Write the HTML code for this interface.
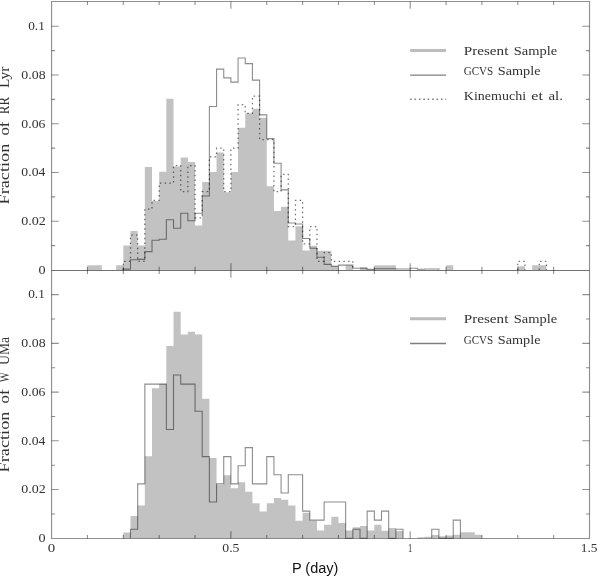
<!DOCTYPE html>
<html><head><meta charset="utf-8"><title>Period distribution</title>
<style>
html,body{margin:0;padding:0;background:#fff;}
body{width:600px;height:577px;position:relative;overflow:hidden;}
svg{position:absolute;left:0;top:0;}
</style></head><body>
<svg width="600" height="577" viewBox="0 0 600 577">
<path fill="#c2c2c2" d="M87.46 270.00L87.46 265.20L94.63 265.20L94.63 265.20L101.80 265.20L101.80 270.00 M116.15 270.00L116.15 265.20L123.32 265.20L123.32 245.40L130.49 245.40L130.49 231.10L137.66 231.10L137.66 245.40L144.84 245.40L144.84 167.10L152.01 167.10L152.01 201.00L159.18 201.00L159.18 171.80L166.35 171.80L166.35 98.70L173.52 98.70L173.52 166.50L180.70 166.50L180.70 157.40L187.87 157.40L187.87 162.00L195.04 162.00L195.04 225.60L202.21 225.60L202.21 182.00L209.38 182.00L209.38 172.00L216.56 172.00L216.56 152.50L223.73 152.50L223.73 192.20L230.90 192.20L230.90 172.00L238.07 172.00L238.07 127.80L245.24 127.80L245.24 113.30L252.42 113.30L252.42 108.70L259.59 108.70L259.59 117.80L266.76 117.80L266.76 186.30L273.93 186.30L273.93 211.00L281.10 211.00L281.10 206.70L288.28 206.70L288.28 240.50L295.45 240.50L295.45 226.20L302.62 226.20L302.62 250.50L309.79 250.50L309.79 245.70L316.96 245.70L316.96 250.80L324.14 250.80L324.14 250.80L331.31 250.80L331.31 265.70L338.48 265.70L338.48 270.00 M345.65 270.00L345.65 265.50L352.82 265.50L352.82 270.00 M360.00 270.00L360.00 267.20L367.17 267.20L367.17 270.00 M374.34 270.00L374.34 265.30L381.51 265.30L381.51 265.30L388.68 265.30L388.68 265.30L395.86 265.30L395.86 270.00 M446.06 270.00L446.06 265.30L453.23 265.30L453.23 270.00 M517.78 270.00L517.78 266.20L524.95 266.20L524.95 270.00 M532.12 270.00L532.12 265.30L539.30 265.30L539.30 265.30L546.47 265.30L546.47 270.00 M123.32 538.30L123.32 532.50L130.49 532.50L130.49 515.90L137.66 515.90L137.66 505.50L144.84 505.50L144.84 456.30L152.01 456.30L152.01 388.30L159.18 388.30L159.18 383.70L166.35 383.70L166.35 345.90L173.52 345.90L173.52 311.70L180.70 311.70L180.70 334.40L187.87 334.40L187.87 331.80L195.04 331.80L195.04 334.40L202.21 334.40L202.21 398.80L209.38 398.80L209.38 458.10L216.56 458.10L216.56 485.00L223.73 485.00L223.73 475.20L230.90 475.20L230.90 488.20L238.07 488.20L238.07 482.30L245.24 482.30L245.24 491.80L252.42 491.80L252.42 503.30L259.59 503.30L259.59 511.40L266.76 511.40L266.76 503.30L273.93 503.30L273.93 497.90L281.10 497.90L281.10 499.80L288.28 499.80L288.28 505.40L295.45 505.40L295.45 520.80L302.62 520.80L302.62 512.70L309.79 512.70L309.79 520.80L316.96 520.80L316.96 530.40L324.14 530.40L324.14 524.80L331.31 524.80L331.31 516.70L338.48 516.70L338.48 522.90L345.65 522.90L345.65 530.40L352.82 530.40L352.82 527.30L360.00 527.30L360.00 526.10L367.17 526.10L367.17 530.40L374.34 530.40L374.34 524.80L381.51 524.80L381.51 530.80L388.68 530.80L388.68 527.90L395.86 527.90L395.86 531.05L403.03 531.05L403.03 538.30 M417.37 538.30L417.37 537.30L424.54 537.30L424.54 536.80L431.72 536.80L431.72 534.90L438.89 534.90L438.89 536.30L446.06 536.30L446.06 535.60L453.23 535.60L453.23 534.70L460.40 534.70L460.40 532.30L467.58 532.30L467.58 532.30L474.75 532.30L474.75 534.70L481.92 534.70L481.92 538.30"/>
<path d="M123.32 270.00L123.32 261.30L130.49 261.30L130.49 235.20L137.66 235.20L137.66 261.30L144.84 261.30L144.84 209.10L152.01 209.10L152.01 200.40L159.18 200.40L159.18 183.00L166.35 183.00L166.35 183.00L173.52 183.00L173.52 165.60L180.70 165.60L180.70 191.70L187.87 191.70L187.87 165.60L195.04 165.60L195.04 217.80L202.21 217.80L202.21 191.70L209.38 191.70L209.38 156.90L216.56 156.90L216.56 148.20L223.73 148.20L223.73 191.70L230.90 191.70L230.90 148.20L238.07 148.20L238.07 104.70L245.24 104.70L245.24 113.40L252.42 113.40L252.42 96.00L259.59 96.00L259.59 139.50L266.76 139.50L266.76 139.50L273.93 139.50L273.93 191.70L281.10 191.70L281.10 174.30L288.28 174.30L288.28 226.50L295.45 226.50L295.45 200.40L302.62 200.40L302.62 243.90L309.79 243.90L309.79 226.50L316.96 226.50L316.96 261.30L324.14 261.30L324.14 252.60L331.31 252.60L331.31 261.30L338.48 261.30L338.48 261.30L345.65 261.30L345.65 261.30L352.82 261.30L352.82 270.00 M517.78 270.00L517.78 261.30L524.95 261.30L524.95 270.00 M539.30 270.00L539.30 261.30L546.47 261.30L546.47 270.00" fill="none" stroke="#000" stroke-opacity="0.55" stroke-width="1.25" stroke-dasharray="1.5 3.25"/>
<path d="M123.32 270.00L123.32 269.10L130.49 269.10L130.49 259.80L137.66 259.80L137.66 259.40L144.84 259.40L144.84 251.60L152.01 251.60L152.01 240.30L159.18 240.30L159.18 239.20L166.35 239.20L166.35 219.70L173.52 219.70L173.52 228.20L180.70 228.20L180.70 213.20L187.87 213.20L187.87 220.80L195.04 220.80L195.04 213.20L202.21 213.20L202.21 196.00L209.38 196.00L209.38 106.50L216.56 106.50L216.56 69.10L223.73 69.10L223.73 77.90L230.90 77.90L230.90 82.10L238.07 82.10L238.07 58.00L245.24 58.00L245.24 63.60L252.42 63.60L252.42 80.10L259.59 80.10L259.59 114.90L266.76 114.90L266.76 138.60L273.93 138.60L273.93 163.30L281.10 163.30L281.10 189.90L288.28 189.90L288.28 223.00L295.45 223.00L295.45 224.00L302.62 224.00L302.62 238.50L309.79 238.50L309.79 248.20L316.96 248.20L316.96 257.20L324.14 257.20L324.14 264.40L331.31 264.40L331.31 266.20L338.48 266.20L338.48 265.10L345.65 265.10L345.65 265.10L352.82 265.10L352.82 268.20L360.00 268.20L360.00 268.20L367.17 268.20L367.17 269.40L374.34 269.40L374.34 268.80L381.51 268.80L381.51 268.80L388.68 268.80L388.68 268.80L395.86 268.80L395.86 269.00L403.03 269.00L403.03 269.00L410.20 269.00L410.20 268.20L417.37 268.20L417.37 269.30L424.54 269.30L424.54 269.00L431.72 269.00L431.72 269.00L438.89 269.00L438.89 270.00 M130.49 538.30L130.49 529.23L137.66 529.23L137.66 483.88L144.84 483.88L144.84 384.11L152.01 384.11L152.01 384.11L159.18 384.11L159.18 384.11L166.35 384.11L166.35 429.46L173.52 429.46L173.52 375.04L180.70 375.04L180.70 384.11L187.87 384.11L187.87 384.11L195.04 384.11L195.04 411.32L202.21 411.32L202.21 456.67L209.38 456.67L209.38 502.02L216.56 502.02L216.56 483.88L223.73 483.88L223.73 456.67L230.90 456.67L230.90 483.88L238.07 483.88L238.07 465.74L245.24 465.74L245.24 447.60L252.42 447.60L252.42 483.88L259.59 483.88L259.59 483.88L266.76 483.88L266.76 456.67L273.93 456.67L273.93 474.81L281.10 474.81L281.10 492.95L288.28 492.95L288.28 474.81L295.45 474.81L295.45 474.81L302.62 474.81L302.62 511.09L309.79 511.09L309.79 520.16L316.96 520.16L316.96 520.16L324.14 520.16L324.14 502.02L331.31 502.02L331.31 502.02L338.48 502.02L338.48 502.02L345.65 502.02L345.65 538.30L352.82 538.30L352.82 529.23L360.00 529.23L360.00 538.30L367.17 538.30L367.17 511.09L374.34 511.09L374.34 520.16L381.51 520.16L381.51 511.09L388.68 511.09L388.68 538.30L395.86 538.30L395.86 529.23L403.03 529.23L403.03 538.30 M431.72 538.30L431.72 529.23L438.89 529.23L438.89 538.30L446.06 538.30L446.06 538.30L453.23 538.30L453.23 520.16L460.40 520.16L460.40 538.30" fill="none" stroke="#000" stroke-opacity="0.45" stroke-width="1.1"/>
<path stroke="#000" stroke-opacity="0.43" stroke-width="1.15" fill="none" d="M51.55 1.50H589.50V538.50H51.55Z"/>
<path stroke="#000" stroke-opacity="0.55" stroke-width="1.15" fill="none" d="M51.55 270.45H589.50"/>
<path stroke="#000" stroke-opacity="0.43" stroke-width="1.1" fill="none" d="M87.46 1.50V5.10M87.46 266.85V274.05M87.46 538.50V534.90M123.32 1.50V5.10M123.32 266.85V274.05M123.32 538.50V534.90M159.18 1.50V5.10M159.18 266.85V274.05M159.18 538.50V534.90M195.04 1.50V5.10M195.04 266.85V274.05M195.04 538.50V534.90M230.90 1.50V8.70M230.90 263.25V277.65M230.90 538.50V531.30M266.76 1.50V5.10M266.76 266.85V274.05M266.76 538.50V534.90M302.62 1.50V5.10M302.62 266.85V274.05M302.62 538.50V534.90M338.48 1.50V5.10M338.48 266.85V274.05M338.48 538.50V534.90M374.34 1.50V5.10M374.34 266.85V274.05M374.34 538.50V534.90M410.20 1.50V8.70M410.20 263.25V277.65M410.20 538.50V531.30M446.06 1.50V5.10M446.06 266.85V274.05M446.06 538.50V534.90M481.92 1.50V5.10M481.92 266.85V274.05M481.92 538.50V534.90M517.78 1.50V5.10M517.78 266.85V274.05M517.78 538.50V534.90M553.64 1.50V5.10M553.64 266.85V274.05M553.64 538.50V534.90M51.55 245.63H55.15M589.50 245.63H585.90M51.55 221.26H58.75M589.50 221.26H582.30M51.55 196.89H55.15M589.50 196.89H585.90M51.55 172.52H58.75M589.50 172.52H582.30M51.55 148.15H55.15M589.50 148.15H585.90M51.55 123.78H58.75M589.50 123.78H582.30M51.55 99.41H55.15M589.50 99.41H585.90M51.55 75.04H58.75M589.50 75.04H582.30M51.55 50.67H55.15M589.50 50.67H585.90M51.55 26.30H58.75M589.50 26.30H582.30M51.55 513.93H55.15M589.50 513.93H585.90M51.55 489.56H58.75M589.50 489.56H582.30M51.55 465.19H55.15M589.50 465.19H585.90M51.55 440.82H58.75M589.50 440.82H582.30M51.55 416.45H55.15M589.50 416.45H585.90M51.55 392.08H58.75M589.50 392.08H582.30M51.55 367.71H55.15M589.50 367.71H585.90M51.55 343.34H58.75M589.50 343.34H582.30M51.55 318.97H55.15M589.50 318.97H585.90M51.55 294.60H58.75M589.50 294.60H582.30"/>
<path d="M410.1 50.40H446.1" stroke="#bcbcbc" stroke-width="3"/><path d="M410.1 75.10H446.1" stroke="#000" stroke-opacity="0.5" stroke-width="1.4"/>
<path d="M410.1 99.3H446.1" stroke="#000" stroke-opacity="0.5" stroke-width="1.4" stroke-dasharray="1.6 2.8"/>
<path d="M410.1 318.80H446.1" stroke="#bcbcbc" stroke-width="3"/><path d="M410.1 343.50H446.1" stroke="#000" stroke-opacity="0.5" stroke-width="1.4"/>
</svg>
<svg width="600" height="577" viewBox="0 0 600 577" style="position:absolute;left:0;top:0;will-change:transform"><text x="38.56" y="273.80" font-size="11.60" textLength="7.08" lengthAdjust="spacingAndGlyphs" font-family='"Liberation Serif",serif' fill="#333">0</text>
<text x="21.37" y="225.06" font-size="11.60" textLength="24.51" lengthAdjust="spacingAndGlyphs" font-family='"Liberation Serif",serif' fill="#333">0.02</text>
<text x="21.38" y="176.32" font-size="11.60" textLength="23.93" lengthAdjust="spacingAndGlyphs" font-family='"Liberation Serif",serif' fill="#333">0.04</text>
<text x="21.37" y="127.58" font-size="11.60" textLength="24.14" lengthAdjust="spacingAndGlyphs" font-family='"Liberation Serif",serif' fill="#333">0.06</text>
<text x="21.37" y="78.84" font-size="11.60" textLength="24.26" lengthAdjust="spacingAndGlyphs" font-family='"Liberation Serif",serif' fill="#333">0.08</text>
<text x="28.19" y="30.10" font-size="11.60" textLength="16.60" lengthAdjust="spacingAndGlyphs" font-family='"Liberation Serif",serif' fill="#333">0.1</text>
<text x="38.56" y="542.10" font-size="11.60" textLength="7.08" lengthAdjust="spacingAndGlyphs" font-family='"Liberation Serif",serif' fill="#333">0</text>
<text x="21.37" y="493.36" font-size="11.60" textLength="24.51" lengthAdjust="spacingAndGlyphs" font-family='"Liberation Serif",serif' fill="#333">0.02</text>
<text x="21.38" y="444.62" font-size="11.60" textLength="23.93" lengthAdjust="spacingAndGlyphs" font-family='"Liberation Serif",serif' fill="#333">0.04</text>
<text x="21.37" y="395.88" font-size="11.60" textLength="24.14" lengthAdjust="spacingAndGlyphs" font-family='"Liberation Serif",serif' fill="#333">0.06</text>
<text x="21.37" y="347.14" font-size="11.60" textLength="24.26" lengthAdjust="spacingAndGlyphs" font-family='"Liberation Serif",serif' fill="#333">0.08</text>
<text x="28.19" y="298.40" font-size="11.60" textLength="16.60" lengthAdjust="spacingAndGlyphs" font-family='"Liberation Serif",serif' fill="#333">0.1</text>
<text x="47.88" y="552.35" font-size="11.60" textLength="7.43" lengthAdjust="spacingAndGlyphs" font-family='"Liberation Serif",serif' fill="#333">0</text>
<text x="222.33" y="552.35" font-size="11.60" textLength="17.16" lengthAdjust="spacingAndGlyphs" font-family='"Liberation Serif",serif' fill="#333">0.5</text>
<text x="408.00" y="552.35" font-size="11.60" textLength="4.26" lengthAdjust="spacingAndGlyphs" font-family='"Liberation Serif",serif' fill="#333">1</text>
<text x="580.83" y="552.35" font-size="11.60" textLength="16.70" lengthAdjust="spacingAndGlyphs" font-family='"Liberation Serif",serif' fill="#333">1.5</text>
<text x="463.76" y="54.70" font-size="12.10" textLength="44.63" lengthAdjust="spacingAndGlyphs" font-family='"Liberation Serif",serif' fill="#333">Present</text>
<text x="513.73" y="54.70" font-size="12.10" textLength="43.47" lengthAdjust="spacingAndGlyphs" font-family='"Liberation Serif",serif' fill="#333">Sample</text>
<text x="463.75" y="75.30" font-size="12.10" textLength="29.44" lengthAdjust="spacingAndGlyphs" font-family='"Liberation Serif",serif' fill="#333">GCVS</text>
<text x="497.75" y="75.30" font-size="12.10" textLength="42.75" lengthAdjust="spacingAndGlyphs" font-family='"Liberation Serif",serif' fill="#333">Sample</text>
<text x="463.80" y="100.00" font-size="12.10" textLength="62.27" lengthAdjust="spacingAndGlyphs" font-family='"Liberation Serif",serif' fill="#333">Kinemuchi</text>
<text x="531.38" y="100.00" font-size="12.10" textLength="11.52" lengthAdjust="spacingAndGlyphs" font-family='"Liberation Serif",serif' fill="#333">et</text>
<text x="548.48" y="100.00" font-size="12.10" textLength="14.51" lengthAdjust="spacingAndGlyphs" font-family='"Liberation Serif",serif' fill="#333">al.</text>
<text x="463.76" y="323.10" font-size="12.10" textLength="44.63" lengthAdjust="spacingAndGlyphs" font-family='"Liberation Serif",serif' fill="#333">Present</text>
<text x="513.73" y="323.10" font-size="12.10" textLength="43.47" lengthAdjust="spacingAndGlyphs" font-family='"Liberation Serif",serif' fill="#333">Sample</text>
<text x="463.75" y="343.70" font-size="12.10" textLength="29.44" lengthAdjust="spacingAndGlyphs" font-family='"Liberation Serif",serif' fill="#333">GCVS</text>
<text x="497.75" y="343.70" font-size="12.10" textLength="42.75" lengthAdjust="spacingAndGlyphs" font-family='"Liberation Serif",serif' fill="#333">Sample</text>
<text transform="translate(9.40 204.00) rotate(-90)" x="-0.53" y="0" font-size="13.80" textLength="60.80" lengthAdjust="spacingAndGlyphs" font-family='"Liberation Serif",serif' fill="#333">Fraction</text>
<text transform="translate(9.40 135.00) rotate(-90)" x="-0.64" y="0" font-size="13.80" textLength="14.04" lengthAdjust="spacingAndGlyphs" font-family='"Liberation Serif",serif' fill="#333">of</text>
<text transform="translate(9.40 113.80) rotate(-90)" x="-0.37" y="0" font-size="13.80" textLength="17.19" lengthAdjust="spacingAndGlyphs" font-family='"Liberation Serif",serif' fill="#333">RR</text>
<text transform="translate(9.40 87.60) rotate(-90)" x="-0.43" y="0" font-size="13.80" textLength="21.36" lengthAdjust="spacingAndGlyphs" font-family='"Liberation Serif",serif' fill="#333">Lyr</text>
<text transform="translate(9.40 471.90) rotate(-90)" x="-0.53" y="0" font-size="13.80" textLength="60.80" lengthAdjust="spacingAndGlyphs" font-family='"Liberation Serif",serif' fill="#333">Fraction</text>
<text transform="translate(9.40 402.90) rotate(-90)" x="-0.64" y="0" font-size="13.80" textLength="14.04" lengthAdjust="spacingAndGlyphs" font-family='"Liberation Serif",serif' fill="#333">of</text>
<text transform="translate(9.40 382.40) rotate(-90)" x="-0.01" y="0" font-size="13.80" textLength="10.43" lengthAdjust="spacingAndGlyphs" font-family='"Liberation Serif",serif' fill="#333">W</text>
<text transform="translate(9.40 364.70) rotate(-90)" x="-0.29" y="0" font-size="13.80" textLength="28.07" lengthAdjust="spacingAndGlyphs" font-family='"Liberation Serif",serif' fill="#333">UMa</text>
<text x="291.92" y="572.90" font-size="14.24" textLength="46.48" lengthAdjust="spacingAndGlyphs" font-family='"Liberation Sans",sans-serif' fill="#111">P (day)</text></svg>
</body></html>
